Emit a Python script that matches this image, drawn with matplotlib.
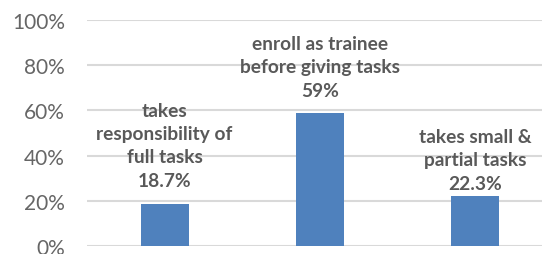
import matplotlib.pyplot as plt
from matplotlib.ticker import PercentFormatter

categories = ['takes\nresponsibility of\nfull tasks',
              'enroll as trainee\nbefore giving tasks',
              'takes small &\npartial tasks']
values = [18.7, 59, 22.3]
value_labels = ['18.7%', '59%', '22.3%']

# label offsets above each bar (points), as in the original layout
label_offsets = [11, 10, 3]

plt.rcParams['font.family'] = ['Lato', 'DejaVu Sans']

fig = plt.figure(figsize=(5.42, 2.55), dpi=100)
ax = fig.add_axes([87 / 542, 7.7 / 255, 455 / 542, 226.6 / 255])

x = range(len(values))
ax.bar(x, [v / 100 for v in values], width=0.31, color='#4F81BD', zorder=3)

for i, (cat, lab) in enumerate(zip(categories, value_labels)):
    ax.annotate(cat + '\n' + lab, (i, values[i] / 100), xytext=(0, label_offsets[i]),
                textcoords='offset points', ha='center', va='bottom',
                fontsize=13.8, fontweight='bold', color='#595959', linespacing=1.45)

ax.set_ylim(0, 1)
ax.set_xlim(-0.5, 2.43)
ax.set_yticks([0, 0.2, 0.4, 0.6, 0.8, 1.0])
ax.yaxis.set_major_formatter(PercentFormatter(1.0, decimals=0))
ax.tick_params(axis='y', length=0, labelsize=15, labelcolor='#666666', pad=16)
ax.set_xticks([])
ax.grid(axis='y', color='#d9d9d9', linewidth=1.5, zorder=0)
for s in ax.spines.values():
    s.set_visible(False)

plt.savefig('out.png', dpi=100)
